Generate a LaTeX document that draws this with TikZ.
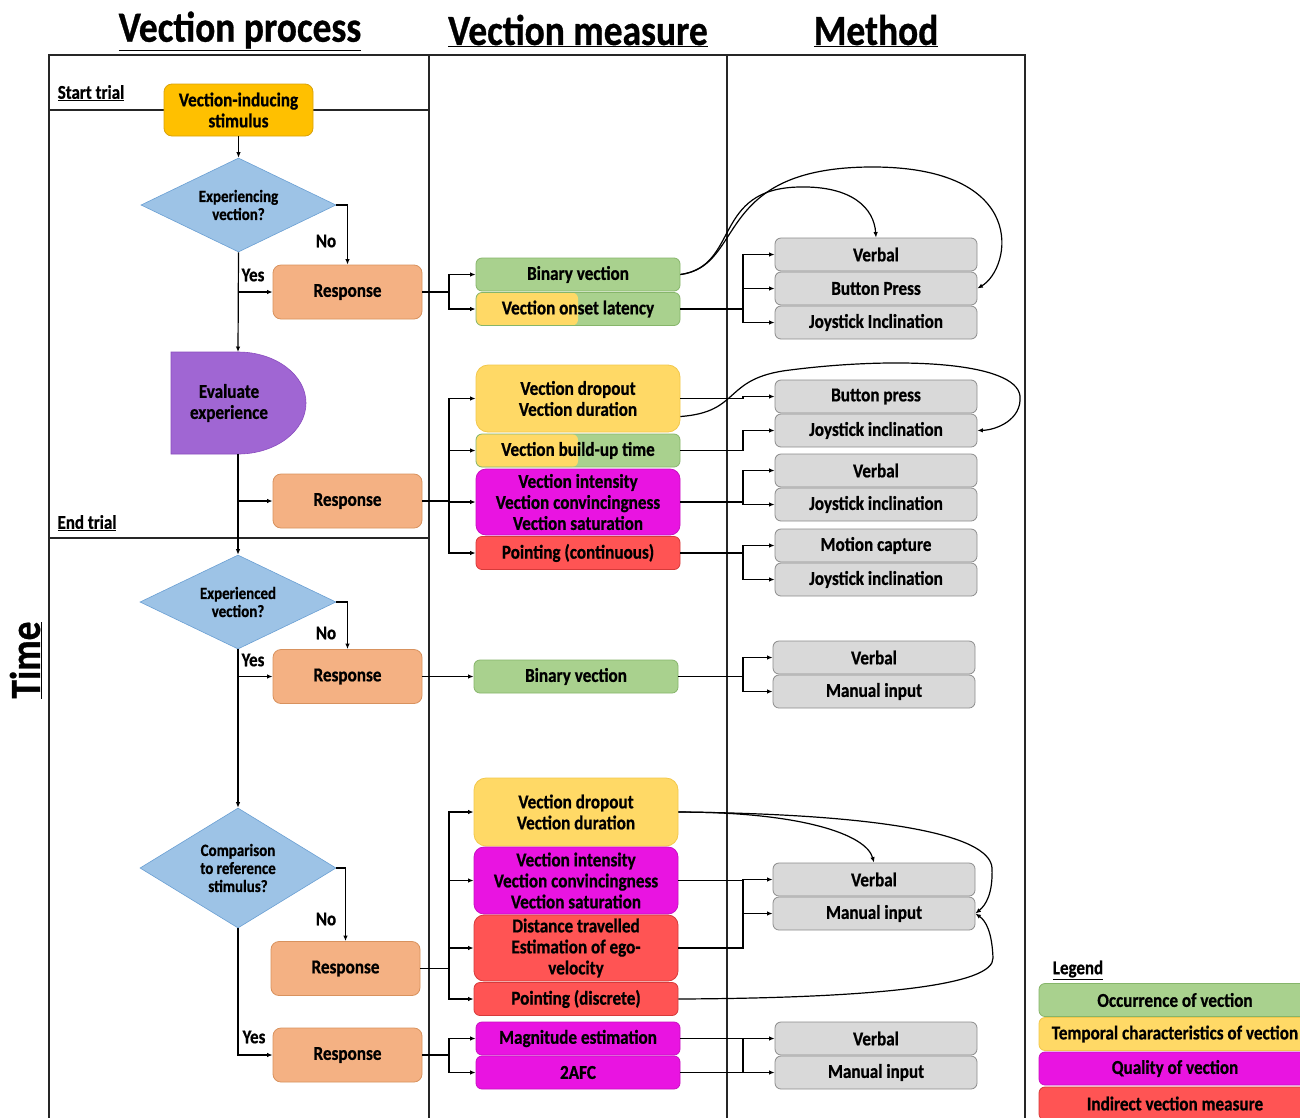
\documentclass[tikz,border=0pt]{standalone}
\usepackage{fontspec}
\setmainfont{Carlito}[FakeStretch=0.87, BoldFeatures={FakeBold=0.7}]
\usetikzlibrary{arrows.meta,shapes.geometric}
\newcommand\fsz[2]{\fontsize{#1pt}{#2pt}\selectfont}
\definecolor{cstim}{HTML}{FFC000}
\definecolor{cstimb}{HTML}{D9A20A}
\definecolor{cdia}{HTML}{9DC3E6}
\definecolor{cdiab}{HTML}{6A9FD3}
\definecolor{cresp}{HTML}{F4B183}
\definecolor{crespb}{HTML}{D8925E}
\definecolor{cpurp}{HTML}{A066D3}
\definecolor{cpurpb}{HTML}{8A4DBF}
\definecolor{cgreen}{HTML}{A9D18E}
\definecolor{cgreenb}{HTML}{86B56A}
\definecolor{cyel}{HTML}{FFD966}
\definecolor{cyelb}{HTML}{F2C84B}
\definecolor{cmag}{HTML}{E914E1}
\definecolor{cmagb}{HTML}{C810C0}
\definecolor{cred}{HTML}{FF5454}
\definecolor{credb}{HTML}{D63A3A}
\definecolor{cgray}{HTML}{D9D9D9}
\definecolor{cgrayb}{HTML}{8C8C8C}
\tikzset{
  frame/.style={line width=1.3pt, draw=black!85},
  conn/.style={-{Latex[length=5.5pt,width=4.5pt]}, line width=1.2pt},
  line/.style={line width=1.2pt},
  boxtxt/.style={align=center, inner sep=0pt, font=\bfseries\fsz{19.7}{21}},
  resp/.style={boxtxt, draw=crespb, fill=cresp, rounded corners=8pt, minimum width=149pt, minimum height=54pt, line width=0.8pt},
  dia/.style={diamond, draw=cdiab, fill=cdia, inner sep=0pt, line width=0.6pt},
  diatxt/.style={align=center, inner sep=0pt, font=\bfseries\fsz{17.2}{18}},
  meas/.style={boxtxt, rounded corners=6pt, minimum width=204pt, minimum height=33pt, line width=0.8pt},
  mgreen/.style={meas, draw=cgreenb, fill=cgreen},
  myel/.style={meas, draw=cyelb, fill=cyel, rounded corners=12pt},
  mmag/.style={meas, draw=cmagb, fill=cmag, rounded corners=10pt},
  mred/.style={meas, draw=credb, fill=cred},
  msplit/.style={meas, draw=cgreenb, fill=cgreen, path picture={\fill[cyel] (path picture bounding box.south west) rectangle (path picture bounding box.north);}},
  meth/.style={boxtxt, draw=cgrayb, fill=cgray, rounded corners=6pt, minimum width=202pt, minimum height=33pt, line width=0.8pt},
  lbl/.style={inner sep=0pt, font=\bfseries\fsz{19.5}{21}},
  head/.style={inner sep=0pt, font=\bfseries\fsz{43}{48}},
}
\begin{document}
\begin{tikzpicture}[x=1pt,y=-1pt]
\clip (0,0) rectangle (1300,1117);
\fill[white] (0,0) rectangle (1300,1117);
% frame
\draw[frame] (49,1125) -- (49,55) -- (1025,55) -- (1025,1125);
\draw[frame] (429,55) -- (429,1125);
\draw[frame] (727,55) -- (727,1125);
\draw[frame] (49,110) -- (429,110);
\draw[frame] (49,538) -- (429,538);
% headings
\node[head] (h1) at (240,31) {\underline{Vection process}};
\node[head] (h2) at (578,31) {\underline{Vection measure}};
\node[head] (h3) at (876,31) {\underline{Method}};
\node[head, rotate=90] (time) at (26,660) {\underline{Time}};
\node[lbl] (st) at (91,93) {\underline{Start trial}};
\node[lbl] (et) at (87,523) {\underline{End trial}};
% process column
\node[boxtxt, draw=cstimb, fill=cstim, rounded corners=8pt, minimum width=149pt, minimum height=52pt, line width=0.8pt] (stim) at (238.5,110) {Vection-inducing\\stimulus};
\node[dia, minimum width=195pt, minimum height=94pt] (d1) at (238.5,205) {};
\node[diatxt] (d1t) at (d1.center) {Experiencing\\vection?};
\node[resp] (r1) at (347.5,292) {Response};
\fill[cpurp, draw=cpurpb, line width=0.6pt] (171,352) -- (238,352) arc[start angle=-90, end angle=90, x radius=68, y radius=51] -- (171,454) -- cycle;
\coordinate (evtop) at (238,352);
\coordinate (evbot) at (238,454);
\node[boxtxt] (ev) at (229,403) {Evaluate\\experience};
\node[resp] (r2) at (347.5,501) {Response};
\node[dia, minimum width=196pt, minimum height=94pt] (d2) at (238,602) {};
\node[diatxt] (d2t) at (d2.center) {Experienced\\vection?};
\node[resp] (r3) at (347.5,676.5) {Response};
\node[dia, minimum width=196pt, minimum height=120pt] (d3) at (238,868) {};
\node[diatxt] (d3t) at (d3.center) {Comparison\\to reference\\stimulus?};
\node[resp] (r4) at (345.5,968.5) {Response};
\node[resp] (r5) at (347.5,1055) {Response};
% labels
\node[lbl] (no1) at (326,241) {No};
\node[lbl] (yes1) at (253,275) {Yes};
\node[lbl] (no2) at (326,633) {No};
\node[lbl] (yes2) at (253,660) {Yes};
\node[lbl] (no3) at (326,919) {No};
\node[lbl] (yes3) at (254,1037) {Yes};
% process connectors
\draw[conn] (stim.south) -- (d1.north);
\draw[conn] (d1.east) -| (r1.north);
\draw[conn] (d1.south) -- (evtop);
\draw[conn] (238,292) -- (r1.west);
\draw[conn] (evbot) -- (d2.north);
\draw[conn] (238,501) -- (r2.west);
\draw[conn] (d2.east) -| (r3.north);
\draw[conn] (d2.south) -- (d3.north);
\draw[conn] (238,676.5) -- (r3.west);
\draw[conn] (d3.east) -| (r4.north);
\draw[conn] (d3.south) |- (r5.west);
% measure column
\node[mgreen] (m1) at (578,274.5) {Binary vection};
\node[msplit] (m2) at (578,309) {Vection onset latency};
\node[myel, minimum height=67pt] (m3) at (578,398.5) {Vection dropout\\Vection duration};
\node[msplit] (m4) at (578,450.5) {Vection build-up time};
\node[mmag, minimum height=66pt] (m5) at (578,502) {Vection intensity\\Vection convincingness\\Vection saturation};
\node[mred] (m6) at (578,553) {Pointing (continuous)};
\node[mgreen] (m7) at (576,676.5) {Binary vection};
\node[myel, minimum height=68pt] (m8) at (576,812) {Vection dropout\\Vection duration};
\node[mmag, minimum height=67pt] (m9) at (576,880.5) {Vection intensity\\Vection convincingness\\Vection saturation};
\node[mred, minimum height=66pt, rounded corners=10pt] (m10) at (576,948) {Distance travelled\\Estimation of ego-\\velocity};
\node[mred] (m11) at (576,999) {Pointing (discrete)};
\node[mmag, rounded corners=6pt] (m12) at (578,1038.5) {Magnitude estimation};
\node[mmag, rounded corners=6pt] (m13) at (578,1072.5) {2AFC};
% response -> measure
\coordinate (j1) at (449,292);
\draw[line] (r1.east) -- (j1);
\draw[conn] (j1) |- (m1.west);
\draw[conn] (j1) |- (m2.west);
\coordinate (j2) at (449,501);
\draw[line] (r2.east) -- (j2);
\draw[conn] (j2) |- (m3.west);
\draw[conn] (j2) |- (m4.west);
\draw[conn] (j2) |- (m5.west);
\draw[conn] (j2) |- (m6.west);
\draw[conn] (r3.east) -- (m7.west);
\coordinate (j4) at (449,968.5);
\draw[line] (r4.east) -- (j4);
\draw[conn] (j4) |- (m8.west);
\draw[conn] (j4) |- (m9.west);
\draw[conn] (j4) |- (m10.west);
\draw[conn] (j4) |- (m11.west);
\coordinate (j5) at (449,1055);
\draw[line] (r5.east) -- (j5);
\draw[conn] (j5) |- (m12.west);
\draw[conn] (j5) |- (m13.west);
% method column
\node[meth] (a1) at (876,254.5) {Verbal};
\node[meth] (a2) at (876,288.5) {Button Press};
\node[meth] (a3) at (876,322.5) {Joystick Inclination};
\node[meth] (b1) at (876,396.5) {Button press};
\node[meth] (b2) at (876,430.5) {Joystick inclination};
\node[meth] (c1) at (876,470.5) {Verbal};
\node[meth] (c2) at (876,504.5) {Joystick inclination};
\node[meth] (e1) at (876,545.5) {Motion capture};
\node[meth] (e2) at (876,579.5) {Joystick inclination};
\node[meth] (f1) at (874,657.5) {Verbal};
\node[meth] (f2) at (874,691.5) {Manual input};
\node[meth] (g1) at (874,879.5) {Verbal};
\node[meth] (g2) at (874,913.5) {Manual input};
\node[meth] (k1) at (876,1038.5) {Verbal};
\node[meth] (k2) at (876,1072.5) {Manual input};
% measure -> method
\coordinate (ja) at (743,309);
\draw[line] (m2.east) -- (ja);
\draw[conn] (ja) |- (a1.west);
\draw[conn] (ja) |- (a2.west);
\draw[conn] (ja) |- (a3.west);
\draw[conn] (m1.east) .. controls (740,266) and (712,188) .. (800,187) .. controls (852,186) and (874,208) .. (a1.north);
\draw[conn] (m1.east) .. controls (746,266) and (712,168) .. (870,167) .. controls (1030,166) and (1012,268) .. (a2.east);
\draw[conn] (m3.east) -- (743,398.5) |- (b1.west);
\draw[conn] ([yshift=-18pt]m3.east) .. controls (742,412) and (722,378) .. (790,370) .. controls (900,356) and (1016,362) .. (1020,396) .. controls (1022,420) and (996,430) .. (b2.east);
\draw[conn] (m4.east) -- (743,450.5) |- (b2.west);
\coordinate (jc) at (743,502);
\draw[line] (m5.east) -- (jc);
\draw[conn] (jc) |- (c1.west);
\draw[conn] (jc) |- (c2.west);
\coordinate (je) at (743,553);
\draw[line] (m6.east) -- (je);
\draw[conn] (je) |- (e1.west);
\draw[conn] (je) |- (e2.west);
\coordinate (jf) at (743,676.5);
\draw[line] (m7.east) -- (jf);
\draw[conn] (jf) |- (f1.west);
\draw[conn] (jf) |- (f2.west);
\coordinate (jg) at (743,880.5);
\draw[line] (m9.east) -- (jg);
\draw[line] (m10.east) -| (jg);
\draw[conn] (jg) |- (g1.west);
\draw[conn] (jg) |- (g2.west);
\draw[conn] (m8.east) .. controls (800,812) and (866,834) .. (g1.north);
\draw[conn] (m8.east) .. controls (880,814) and (990,834) .. (992,868) .. controls (993,893) and (986,905) .. (g2.east);
\draw[conn] (m11.east) .. controls (880,998) and (994,985) .. (993,958) .. controls (992,932) and (986,921) .. (g2.east);
\coordinate (jk) at (743,1038.5);
\draw[conn] (m12.east) -- (k1.west);
\draw[conn] (jk) |- (k2.west);
\draw[line] (m13.east) -| (jk);
% legend
\node[lbl] (leg) at (1078,970) {\underline{Legend}};
\node[meas, draw=cgreenb, fill=cgreen, minimum width=272pt] (l1) at (1175,1000) {Occurrence of vection};
\node[meas, draw=cyelb, fill=cyel, minimum width=272pt] (l2) at (1175,1034) {Temporal characteristics of vection};
\node[meas, draw=cmagb, fill=cmag, minimum width=272pt] (l3) at (1175,1068.5) {Quality of vection};
\node[meas, draw=credb, fill=cred, minimum width=272pt] (l4) at (1175,1103.5) {Indirect vection measure};
\end{tikzpicture}
\end{document}
